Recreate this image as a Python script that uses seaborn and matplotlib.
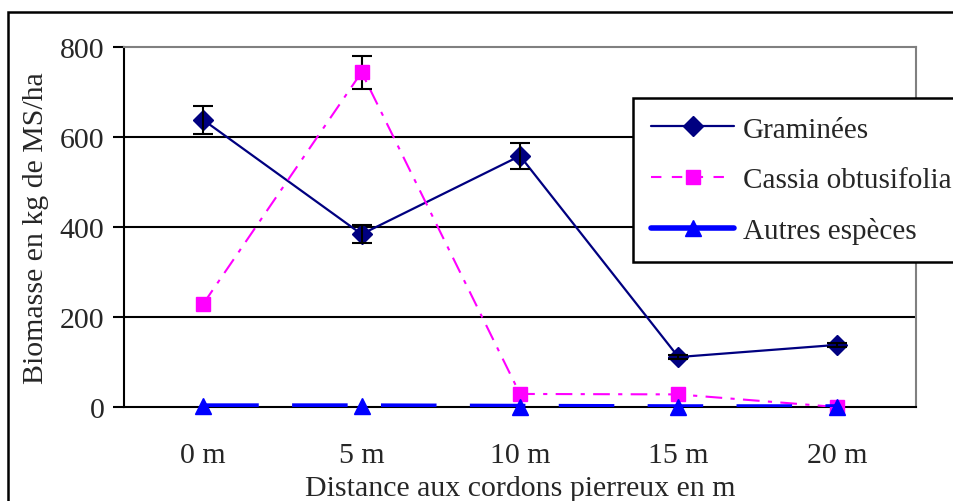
import matplotlib
matplotlib.use("Agg")
import matplotlib.pyplot as plt
import matplotlib.patches as mpatches
from matplotlib.lines import Line2D
import seaborn as sns
import numpy as np
import pandas as pd

categories = ["0 m", "5 m", "10 m", "15 m", "20 m"]
graminees = [638, 384, 558, 111, 138]
graminees_err = [32, 20, 28, 5, 5]
cassia = [229, 744, 29, 28, 0]
cassia_err = [0, 37, 0, 0, 0]
autres = [2, 2, 1, 0, 0]
series_names = ["Graminées", "Cassia obtusifolia", "Autres espèces"]
yticks = [0, 200, 400, 600, 800]

sns.set_theme(style="white")
plt.rcParams['font.family'] = ['Liberation Serif', 'DejaVu Serif']
FS = 21.5

fig = plt.figure(figsize=(9.54, 5.02), dpi=100)
ax = fig.add_axes([124/954, 1-408/502, (916-124)/954, (408-48)/502])

x = np.arange(len(categories))
df = pd.DataFrame({"x": np.tile(x, 3),
                   "y": graminees + cassia + autres,
                   "serie": np.repeat(series_names, len(categories))})

for yv in yticks[1:-1]:
    ax.axhline(yv, color="black", lw=1.5, zorder=1)

colors = ["#000080", "#FF00FF", "#0000FF"]
markers = ["D", "s", "^"]
msizes = [10, 10, 12]
lws = [1.6, 1.5, 4]
dashes = [None, [8, 4, 2, 4], [10, 6]]

for i, name in enumerate(series_names):
    sub = df[df.serie == name]
    sns.lineplot(data=sub, x="x", y="y", ax=ax, color=colors[i], lw=lws[i],
                 zorder=3 + i, errorbar=None, legend=False)
    if dashes[i] is not None:
        ax.lines[-1].set_dashes(dashes[i])
    ax.plot(sub["x"], sub["y"], linestyle="none", marker=markers[i], ms=msizes[i],
            mfc=colors[i], mec=colors[i], mew=1, zorder=3.5 + i, clip_on=False)

for vals, errs in [(graminees, graminees_err), (cassia, cassia_err)]:
    idx = [k for k, e in enumerate(errs) if e > 0]
    ax.errorbar([x[k] for k in idx], [vals[k] for k in idx], yerr=[errs[k] for k in idx],
                fmt="none", ecolor="black", elinewidth=1.5, capsize=7, capthick=1.5, zorder=4)

ax.set_xlim(-0.5, len(categories) - 0.5)
ax.set_ylim(0, 800)
ax.set_yticks(yticks)
ax.set_yticklabels([str(v) for v in yticks], fontsize=FS)
ax.set_xticks(x)
ax.set_xticklabels(categories, fontsize=FS)
ax.set_xticks(np.arange(-0.5, len(categories)), minor=True)
ax.tick_params(axis="x", which="major", length=0, pad=25)
ax.tick_params(axis="x", which="minor", length=8, width=1.5, color="black", direction="out")
ax.tick_params(axis="y", length=8, width=1.5, color="black", direction="out", pad=6, left=True)
ax.set_xlabel("Distance aux cordons pierreux en m", fontsize=FS, labelpad=5)
ax.set_ylabel("Biomasse en kg de MS/ha", fontsize=FS, labelpad=8)

for s in ["left", "bottom"]:
    ax.spines[s].set_color("black")
    ax.spines[s].set_linewidth(1.5)
for s in ["top", "right"]:
    ax.spines[s].set_color("#808080")
    ax.spines[s].set_linewidth(1.5)

handles = []
for i, name in enumerate(series_names):
    h = Line2D([0], [0], color=colors[i], lw=lws[i], marker=markers[i], ms=msizes[i],
               mfc=colors[i], mec=colors[i], label=name)
    if i == 1:
        h.set_dashes([5, 5])
    handles.append(h)
leg = fig.legend(handles=handles, loc="upper left", bbox_to_anchor=(633/954, 1-99/502),
                 fontsize=21, frameon=True, fancybox=False, edgecolor="black",
                 borderpad=0.62, labelspacing=0.82, handlelength=2.85, handletextpad=0.3,
                 borderaxespad=0)
leg.get_frame().set_linewidth(1.8)
leg.get_frame().set_alpha(1)

fig.patches.append(mpatches.Rectangle((8/954, -0.1), 1.2, 1-13/502+0.1, transform=fig.transFigure,
                                      fill=False, edgecolor="black", lw=1.8, figure=fig))

fig.savefig("out.png", dpi=100)
